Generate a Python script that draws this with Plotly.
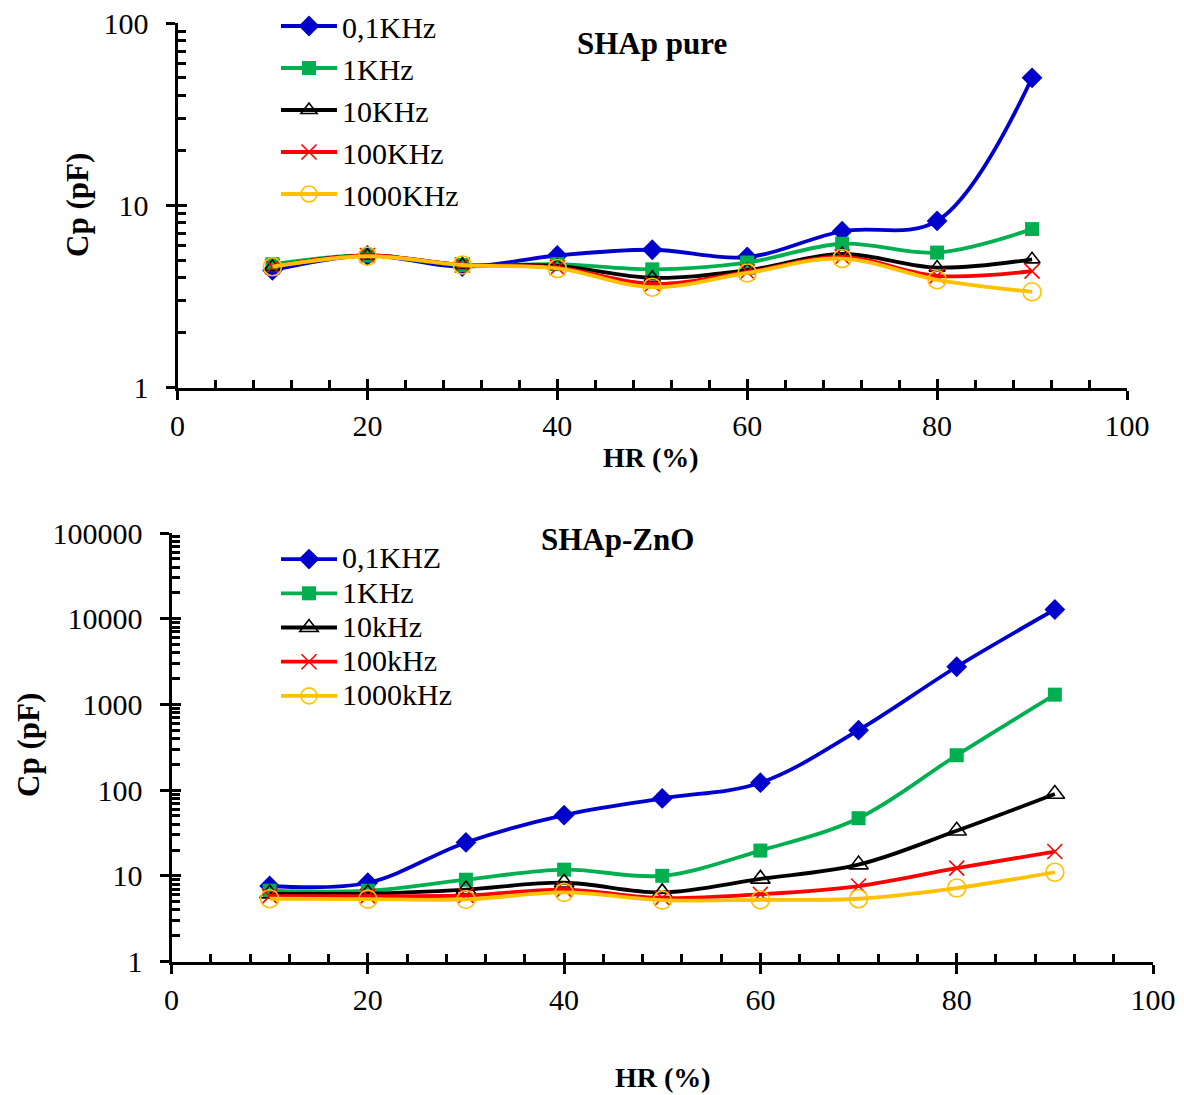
import plotly.graph_objects as go

# ---------------- data ----------------
hr = [10, 20, 30, 40, 50, 60, 70, 80, 90]

# SHAp pure
pure_names = ["0,1KHz", "1KHz", "10KHz", "100KHz", "1000KHz"]
pure_01k = [4.4, 5.3, 4.6, 5.3, 5.7, 5.2, 7.2, 8.2, 50]
pure_1k = [4.75, 5.3, 4.7, 4.75, 4.45, 4.85, 6.15, 5.5, 7.4]
pure_10k = [4.6, 5.3, 4.7, 4.65, 4.0, 4.4, 5.4, 4.55, 5.05]
pure_100k = [4.6, 5.3, 4.7, 4.55, 3.7, 4.3, 5.2, 4.1, 4.35]
pure_1000k = [4.6, 5.25, 4.7, 4.5, 3.55, 4.25, 5.1, 3.9, 3.35]

# SHAp-ZnO
zno_names = ["0,1KHZ", "1KHz", "10kHz", "100kHz", "1000kHz"]
zno_01k = [7.6, 8.3, 24.5, 51, 80, 122, 500, 2750, 12800]
zno_1k = [6.7, 6.7, 9.0, 11.8, 10.0, 19.7, 47, 255, 1300]
zno_10k = [6.2, 6.2, 6.9, 8.3, 6.4, 9.2, 13.5, 33.5, 90]
zno_100k = [5.8, 5.8, 5.9, 6.9, 5.5, 6.1, 7.6, 12.3, 19.2]
zno_1000k = [5.4, 5.35, 5.3, 6.4, 5.2, 5.25, 5.4, 7.2, 11.0]

x_ticks = [0, 20, 40, 60, 80, 100]
top_y_ticks = [1, 10, 100]
bot_y_ticks = [1, 10, 100, 1000, 10000, 100000]

# ---------------- styles ----------------
FONT = "Liberation Serif, Times New Roman, serif"
colors = ["#0000CC", "#00B050", "#000000", "#FF0000", "#FFC000"]


def make_markers(tri_size):
    return [
        dict(symbol="diamond", size=16, color=colors[0]),
        dict(symbol="square", size=14, color=colors[1]),
        dict(symbol="triangle-up-open", size=tri_size, color=colors[2], line=dict(width=1.6, color=colors[2])),
        dict(symbol="x-thin-open", size=15, color=colors[3], line=dict(width=1.6, color=colors[3])),
        dict(symbol="circle-open", size=18, color=colors[4], line=dict(width=1.6, color=colors[4])),
    ]


fig = go.Figure()

pure_series = [pure_01k, pure_1k, pure_10k, pure_100k, pure_1000k]
zno_series = [zno_01k, zno_1k, zno_10k, zno_100k, zno_1000k]

m_top = make_markers(14)
m_bot = make_markers(17)

for i, (name, ys) in enumerate(zip(pure_names, pure_series)):
    fig.add_trace(go.Scatter(
        x=hr, y=ys, name=name, mode="lines+markers",
        line=dict(color=colors[i], width=3.8, shape="spline", smoothing=1.0),
        marker=m_top[i], xaxis="x", yaxis="y", legend="legend", cliponaxis=False,
    ))

for i, (name, ys) in enumerate(zip(zno_names, zno_series)):
    fig.add_trace(go.Scatter(
        x=hr, y=ys, name='<span style="font-size:30px">' + name + "</span>",
        mode="lines+markers",
        line=dict(color=colors[i], width=3.8, shape="spline", smoothing=1.0),
        marker=m_bot[i], xaxis="x2", yaxis="y2", legend="legend2", cliponaxis=False,
    ))

W, H = 1184, 1095
OFF = 8  # page body margin offset


def px(x):
    return (x - OFF) / W


def py(y):
    return 1 - (y - OFF) / H


LW = 1.5  # half axis line width
top_xdom = [px(176 + LW), px(1127)]
bot_xdom = [px(170 + LW), px(1153)]
top_ydom = [py(389 - LW), py(23)]
bot_ydom = [py(963 - LW), py(533)]

tickfont = dict(family=FONT, size=30, color="black")


def x_axis(domain, anchor):
    return dict(
        domain=domain, anchor=anchor, range=[0, 100], automargin=False,
        tickmode="array", tickvals=x_ticks, ticktext=[str(v) for v in x_ticks],
        ticks="outside", ticklen=9, tickwidth=3, tickcolor="black",
        minor=dict(ticks="inside", tickmode="array", tickvals=list(range(4, 100, 4)),
                   ticklen=8, tickwidth=2.5, tickcolor="black", showgrid=False),
        showline=True, linewidth=3, linecolor="black", ticklabeloverflow="allow",
        showgrid=False, zeroline=False, tickfont=tickfont, ticklabelstandoff=0,
    )


def x_overlay(over, anchor):
    return dict(
        overlaying=over, anchor=anchor, range=[0, 100], automargin=False,
        tickmode="array", tickvals=x_ticks, ticks="inside", ticklen=9, tickwidth=3,
        tickcolor="black", showticklabels=False, showline=False, showgrid=False,
        zeroline=False,
    )


def y_axis(domain, anchor, tvals, rng):
    minor_vals = []
    for v in tvals[:-1]:
        minor_vals += [v * k for k in range(2, 10)]
    return dict(
        domain=domain, anchor=anchor, type="log", range=rng, automargin=False,
        tickmode="array", tickvals=tvals, ticktext=[str(v) for v in tvals],
        ticks="outside", ticklen=9, tickwidth=3, tickcolor="black",
        minor=dict(ticks="inside", tickmode="array", tickvals=minor_vals,
                   ticklen=8, tickwidth=2.5, tickcolor="black", showgrid=False),
        showline=True, linewidth=3, linecolor="black", ticklabeloverflow="allow",
        showgrid=False, zeroline=False, tickfont=tickfont, ticklabelstandoff=11,
    )


def y_overlay(over, anchor, tvals, rng):
    return dict(
        overlaying=over, anchor=anchor, type="log", range=rng, automargin=False,
        tickmode="array", tickvals=tvals, ticks="inside", ticklen=9, tickwidth=3,
        tickcolor="black", showticklabels=False, showline=False, showgrid=False,
        zeroline=False,
    )


# invisible helper traces so overlay axes are drawn
fig.add_trace(go.Scatter(x=[None], y=[None], xaxis="x3", yaxis="y3", showlegend=False, hoverinfo="skip"))
fig.add_trace(go.Scatter(x=[None], y=[None], xaxis="x4", yaxis="y4", showlegend=False, hoverinfo="skip"))

fig.update_layout(
    width=W, height=H,
    margin=dict(l=0, r=0, t=0, b=0, pad=0, autoexpand=False),
    paper_bgcolor="white", plot_bgcolor="rgba(0,0,0,0)",
    font=dict(family=FONT, color="black"),
    xaxis=x_axis(top_xdom, "y"),
    yaxis=y_axis(top_ydom, "x", top_y_ticks, [0, 2]),
    xaxis2=x_axis(bot_xdom, "y2"),
    yaxis2=y_axis(bot_ydom, "x2", bot_y_ticks, [0, 5]),
    xaxis3=x_overlay("x", "y3"),
    yaxis3=y_overlay("y", "x3", top_y_ticks, [0, 2]),
    xaxis4=x_overlay("x2", "y4"),
    yaxis4=y_overlay("y2", "x4", bot_y_ticks, [0, 5]),
    legend=dict(x=px(276), xanchor="left", y=py(0), yanchor="top",
                bgcolor="rgba(0,0,0,0)", font=dict(family=FONT, size=30, color="black"),
                itemwidth=56, tracegroupgap=0),
    legend2=dict(x=px(276), xanchor="left", y=py(537), yanchor="top",
                 bgcolor="rgba(0,0,0,0)", font=dict(family=FONT, size=24, color="black"),
                 itemwidth=56, tracegroupgap=0),
    showlegend=True,
)

annos = [
    dict(text="<b>SHAp pure</b>", x=px(652), y=py(44), size=31),
    dict(text="<b>SHAp-ZnO</b>", x=px(617), y=py(540), size=31),
    dict(text="<b>HR (%)</b>", x=px(651), y=py(457), size=28),
    dict(text="<b>HR (%)</b>", x=px(663), y=py(1077), size=28),
    dict(text="<b>Cp (pF)</b>", x=px(77), y=py(205), size=31, textangle=-90),
    dict(text="<b>Cp (pF)</b>", x=px(28), y=py(745), size=31, textangle=-90),
]
for a in annos:
    size = a.pop("size")
    fig.add_annotation(xref="paper", yref="paper", xanchor="center", yanchor="middle",
                       showarrow=False, font=dict(family=FONT, size=size, color="black"), **a)

fig.write_html("out.html")
